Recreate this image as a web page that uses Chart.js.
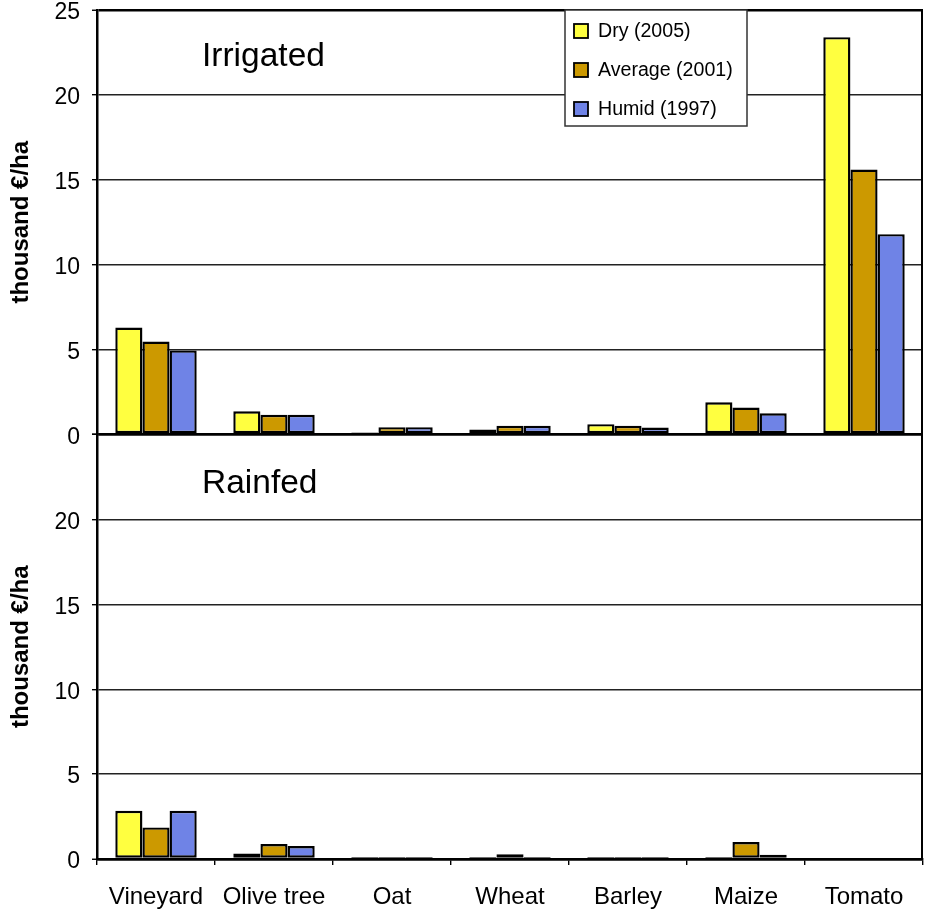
<!DOCTYPE html>
<html>
<head>
<meta charset="utf-8">
<script src="https://cdn.jsdelivr.net/npm/chart.js@4.4.0/dist/chart.umd.min.js"></script>
<style>
html, body { margin: 0; padding: 0; background: #fff; }
#wrap { width: 925px; height: 912px; }
</style>
</head>
<body>
<div id="wrap"><canvas id="crops" width="925" height="912"></canvas></div>
<script>
const crops = ["Vineyard", "Olive tree", "Oat", "Wheat", "Barley", "Maize", "Tomato"];
const years = ["Dry (2005)", "Average (2001)", "Humid (1997)"];
const panels = ["Irrigated", "Rainfed"];

// thousand €/ha, irrigated
const irrigatedDry = [6.3, 1.37, 0.12, 0.29, 0.61, 1.9, 23.4];
const irrigatedAverage = [5.47, 1.16, 0.43, 0.51, 0.51, 1.59, 15.6];
const irrigatedHumid = [4.95, 1.16, 0.43, 0.51, 0.41, 1.25, 11.8];

// thousand €/ha, rainfed
const rainfedDry = [2.84, 0.33, 0.12, 0.12, 0.12, 0.12, 0];
const rainfedAverage = [1.86, 0.88, 0.12, 0.28, 0.12, 1.0, 0];
const rainfedHumid = [2.84, 0.76, 0.12, 0.12, 0.12, 0.25, 0];

const yTicks = [0, 5, 10, 15, 20, 25];

const colours = ['#FFFF40', '#CC9900', '#6F83E6'];
const stackIds = ['dry', 'avg', 'hum'];
const FONT = '"Liberation Sans", Arial, Helvetica, sans-serif';

function series(label, values, i, axis) {
    return {
        label: label,
        data: values,
        yAxisID: axis,
        stack: stackIds[i],
        backgroundColor: colours[i],
        borderColor: '#000',
        borderWidth: 2.4,
        borderSkipped: false,
        categoryPercentage: 0.69,
        barPercentage: 1.0
    };
}

function panelAxis(isBottom) {
    return {
        type: 'linear',
        position: 'left',
        stack: 'panels',
        stackWeight: 1,
        min: 0,
        max: 25,
        afterBuildTicks: axis => { axis.ticks = yTicks.map(v => ({ value: v })); },
        afterFit: axis => {
            axis.width = 97;
            axis.paddingTop = 0;
            axis.paddingBottom = 0;
        },
        border: { display: true, color: '#000', width: 2.5 },
        grid: {
            color: c => (c.tick && (c.tick.value === 0 || c.tick.value === 25)) ? '#000' : '#222',
            lineWidth: c => (c.tick && (c.tick.value === 0 || c.tick.value === 25)) ? 2.5 : 1.4,
            tickLength: 5,
            tickColor: '#000',
            tickWidth: 1.4
        },
        ticks: {
            color: '#000',
            font: { family: FONT, size: 23 },
            padding: 12,
            labelOffset: 3,
            callback: v => (isBottom && v === 25) ? '' : v
        },
        title: {
            display: true,
            text: 'thousand €/ha',
            color: '#000',
            font: { family: FONT, size: 24, weight: 'bold' },
            padding: { top: 7, bottom: 0 }
        }
    };
}

const panelDecor = {
    id: 'panelDecor',
    afterDraw(chart) {
        const { ctx, chartArea } = chart;
        const top = chart.scales.yTop;
        const bottom = chart.scales.yBottom;
        ctx.save();

        // right frame
        ctx.strokeStyle = '#000';
        ctx.lineWidth = 2;
        ctx.beginPath();
        ctx.moveTo(chartArea.right - 1, chartArea.top);
        ctx.lineTo(chartArea.right - 1, chartArea.bottom);
        ctx.stroke();

        // panel titles
        ctx.fillStyle = '#000';
        ctx.font = '33.5px ' + FONT;
        ctx.textAlign = 'left';
        ctx.textBaseline = 'alphabetic';
        ctx.fillText(panels[0], chartArea.left + 105, top.top + 56);
        ctx.fillText(panels[1], chartArea.left + 105, bottom.top + 58);

        // legend box
        const bx = chartArea.left + 468, by = top.top, bw = 182, bh = 116;
        ctx.fillStyle = '#fff';
        ctx.fillRect(bx, by, bw, bh);
        ctx.strokeStyle = '#333';
        ctx.lineWidth = 1.5;
        ctx.strokeRect(bx, by, bw, bh);
        ctx.font = '19.6px ' + FONT;
        ctx.textBaseline = 'middle';
        chart.data.datasets.slice(0, 3).forEach((ds, i) => {
            const cy = by + 21 + i * 39;
            ctx.fillStyle = ds.backgroundColor;
            ctx.fillRect(bx + 9, cy - 7, 14, 14);
            ctx.strokeStyle = '#000';
            ctx.lineWidth = 1.8;
            ctx.strokeRect(bx + 9, cy - 7, 14, 14);
            ctx.fillStyle = '#000';
            ctx.fillText(ds.label, bx + 33, cy + 1);
        });
        ctx.restore();
    }
};

new Chart(document.getElementById('crops'), {
    type: 'bar',
    data: {
        labels: crops,
        datasets: [
            series(years[0], irrigatedDry, 0, 'yTop'),
            series(years[1], irrigatedAverage, 1, 'yTop'),
            series(years[2], irrigatedHumid, 2, 'yTop'),
            series(years[0], rainfedDry, 0, 'yBottom'),
            series(years[1], rainfedAverage, 1, 'yBottom'),
            series(years[2], rainfedHumid, 2, 'yBottom')
        ]
    },
    options: {
        responsive: false,
        animation: false,
        layout: { padding: { top: 10, right: 2, left: 0, bottom: 0 } },
        plugins: {
            legend: { display: false },
            tooltip: { enabled: false }
        },
        scales: {
            x: {
                type: 'category',
                afterFit: axis => {
                    axis.height = 53;
                    axis.paddingLeft = 0;
                    axis.paddingRight = 0;
                },
                border: { display: true, color: '#000', width: 2.5 },
                grid: {
                    display: true,
                    offset: true,
                    drawOnChartArea: false,
                    drawTicks: true,
                    tickLength: 6,
                    color: '#000',
                    lineWidth: 1.4
                },
                ticks: {
                    color: '#000',
                    font: { family: FONT, size: 24 },
                    padding: 18,
                    maxRotation: 0,
                    autoSkip: false
                }
            },
            yBottom: panelAxis(true),
            yTop: panelAxis(false)
        }
    },
    plugins: [panelDecor]
});
</script>
</body>
</html>
